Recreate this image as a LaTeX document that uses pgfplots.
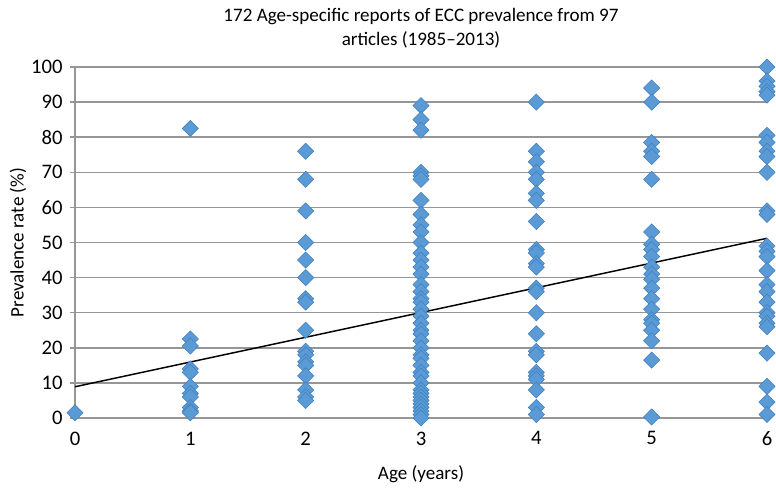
\documentclass[border=0pt]{standalone}
\usepackage{pgfplots}
\pgfplotsset{compat=1.18}
\usepackage{fontspec}
\setmainfont{Carlito}
\definecolor{markblue}{RGB}{91,155,213}
\definecolor{markedge}{RGB}{65,125,190}
\definecolor{gridgray}{RGB}{150,150,150}
\begin{document}
\begin{tikzpicture}
\path[use as bounding box] (-56.25pt,-51.75pt) rectangle (525.75pt,313.5pt);
\begin{axis}[
  at={(0pt,0pt)}, anchor=south west,
  scale only axis, width=519pt, height=263.25pt,
  xmin=0, xmax=6, ymin=0, ymax=100,
  xtick={0,...,6}, ytick={0,10,...,100},
  clip=false,
  axis lines*=left,
  axis line style={gridgray, line width=1.1pt},
  ymajorgrids, grid style={gridgray, line width=1.1pt},
  xtick style={draw=none},
  ytick style={gridgray, line width=1.1pt},
  tick align=outside, major tick length=3.75pt,
  tick label style={font=\fontsize{15.5}{18}\selectfont},
  /pgf/number format/assume math mode=true,
  xticklabel style={yshift=-3pt},
  yticklabel style={xshift=-2pt},
]
\addplot[only marks, mark=square*, mark size=4.3pt,
  mark options={rotate=45, fill=markblue, draw=markedge, line width=0.4pt}]
  table[row sep=\\] {
x y\\
0 1.5\\
1 82.5\\ 1 22.5\\ 1 20.5\\ 1 14\\ 1 13\\ 1 9\\ 1 7\\ 1 6\\ 1 3\\ 1 2\\ 1 1.5\\
2 76\\ 2 68\\ 2 59\\ 2 50\\ 2 45\\ 2 40\\ 2 34\\ 2 33\\ 2 25\\ 2 19\\ 2 18\\ 2 16\\ 2 15\\ 2 12\\ 2 8\\ 2 6\\ 2 5\\
3 89\\ 3 85\\ 3 82\\ 3 70\\ 3 69\\ 3 68\\ 3 62\\ 3 58\\ 3 55\\ 3 53\\ 3 50\\ 3 47\\ 3 45\\ 3 43\\ 3 41\\ 3 38\\ 3 36\\ 3 34\\ 3 33\\ 3 31\\ 3 29\\ 3 27\\ 3 25\\ 3 24\\ 3 22\\ 3 20\\ 3 18\\ 3 17\\ 3 15\\ 3 13\\ 3 12\\ 3 10\\ 3 8\\ 3 7\\ 3 6\\ 3 5\\ 3 4\\ 3 3\\ 3 2\\ 3 1\\ 3 0\\
4 90\\ 4 76\\ 4 73\\ 4 70\\ 4 68\\ 4 64\\ 4 62\\ 4 56\\ 4 48\\ 4 47\\ 4 44\\ 4 43\\ 4 37\\ 4 36\\ 4 30\\ 4 24\\ 4 19\\ 4 18\\ 4 13\\ 4 12\\ 4 11\\ 4 8\\ 4 3\\ 4 1\\
5 94\\ 5 90\\ 5 78.5\\ 5 76\\ 5 74.5\\ 5 68\\ 5 53\\ 5 49.5\\ 5 48\\ 5 46\\ 5 43\\ 5 41\\ 5 39.5\\ 5 37\\ 5 34\\ 5 31\\ 5 28\\ 5 27\\ 5 25\\ 5 22\\ 5 16.5\\ 5 0.3\\
6 100\\ 6 96\\ 6 94.5\\ 6 93\\ 6 92\\ 6 80.5\\ 6 78.5\\ 6 76\\ 6 74.5\\ 6 70\\ 6 59\\ 6 58\\ 6 49\\ 6 47.5\\ 6 46\\ 6 42\\ 6 38\\ 6 36\\ 6 33\\ 6 30\\ 6 29\\ 6 27\\ 6 26\\ 6 18.5\\ 6 9\\ 6 4.5\\ 6 1\\
};
\addplot[black, line width=1.1pt, no marks] coordinates {(0,8.9) (6,51.2)};
\end{axis}
\node[font=\fontsize{14.3}{17}\selectfont, anchor=base] at (259.5pt,297.5pt) {172 Age-specific reports of ECC prevalence from 97};
\node[font=\fontsize{14.3}{17}\selectfont, anchor=base] at (259.5pt,279.5pt) {articles (1985--2013)};
\node[font=\fontsize{14.3}{17}\selectfont] at (259.5pt,-42pt) {Age (years)};
\node[font=\fontsize{14.3}{17}\selectfont, rotate=90] at (-42.75pt,131.6pt) {Prevalence rate (\%)};
\end{tikzpicture}
\end{document}
